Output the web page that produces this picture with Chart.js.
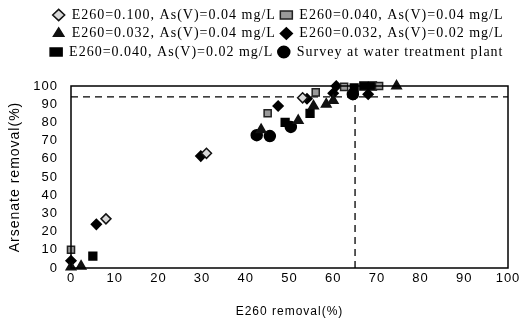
<!DOCTYPE html>
<html>
<head>
<meta charset="utf-8">
<script src="https://cdn.jsdelivr.net/npm/chart.js@4"></script>
<style>
  html, body { margin: 0; padding: 0; background: #fff; }
  #wrap { width: 525px; height: 329px; }
</style>
</head>
<body>
<div id="wrap"><canvas id="chart" width="525" height="329"></canvas></div>
<script>
// series labels
var seriesNames = [
  "E260=0.100, As(V)=0.04 mg/L",
  "E260=0.040, As(V)=0.04 mg/L",
  "E260=0.032, As(V)=0.04 mg/L",
  "E260=0.032, As(V)=0.02 mg/L",
  "E260=0.040, As(V)=0.02 mg/L",
  "Survey at water treatment plant"
];

// E260 removal (%) / arsenate removal (%) per series
var e100As04X = [8, 31, 53];
var e100As04Y = [27, 63, 93.5];

var e040As04X = [0, 45, 56, 62.5, 70.5];
var e040As04Y = [10, 85, 96.5, 99.5, 100];

var e032As04X = [0, 2.3, 43.5, 52, 55.5, 58.4, 60, 74.5];
var e032As04Y = [0.5, 1, 76, 81, 89, 90, 92, 100];

var e032As02X = [0, 5.8, 29.7, 47.4, 54, 60, 60.7, 68];
var e032As02Y = [4, 24, 61.5, 89, 93, 96, 100, 95.5];

var e040As02X = [5, 49, 54.7, 64.8, 67, 69];
var e040As02Y = [6.5, 80, 85, 99, 100, 100];

var surveyX = [42.5, 45.5, 50.3, 64.5];
var surveyY = [73, 72.5, 77.5, 95.5];

// guide lines
var targetE260 = 65;
var targetArsenate = 94;

var xTicks = [0, 10, 20, 30, 40, 50, 60, 70, 80, 90, 100];
var yTicks = [0, 10, 20, 30, 40, 50, 60, 70, 80, 90, 100];

function pts(xs, ys) {
  return xs.map(function (x, i) { return { x: x, y: ys[i] }; });
}

function scatterSet(label, xs, ys, style, fill, border, r) {
  return {
    type: 'scatter',
    label: label,
    data: pts(xs, ys),
    pointStyle: style,
    backgroundColor: fill,
    borderColor: border,
    borderWidth: 1.5,
    pointRadius: r,
    clip: false
  };
}

var boxPlugin = {
  id: 'box',
  beforeLayout: function (chart) { chart.ctx.letterSpacing = '1px'; },
  beforeDraw: function (chart) { chart.ctx.letterSpacing = '1px'; },
  afterDatasetsDraw: function (chart) {
    var a = chart.chartArea, ctx = chart.ctx;
    ctx.save();
    ctx.strokeStyle = '#000';
    ctx.lineWidth = 1.5;
    ctx.strokeRect(a.left, a.top, a.right - a.left, a.bottom - a.top);
    ctx.restore();
  }
};

var guideStyle = {
  type: 'line',
  borderColor: '#000',
  borderWidth: 1.3,
  borderDash: [7, 5],
  pointRadius: 0,
  fill: false,
  clip: false
};

new Chart(document.getElementById('chart'), {
  type: 'scatter',
  data: {
    datasets: [
      scatterSet(seriesNames[0], e100As04X, e100As04Y, 'rectRot', '#d8d8d8', '#111', 5),
      scatterSet(seriesNames[1], e040As04X, e040As04Y, 'rect', '#9a9a9a', '#222', 5),
      scatterSet(seriesNames[2], e032As04X, e032As04Y, 'triangle', '#111', '#111', 5.5),
      scatterSet(seriesNames[3], e032As02X, e032As02Y, 'rectRot', '#000', '#000', 5),
      scatterSet(seriesNames[4], e040As02X, e040As02Y, 'rect', '#000', '#000', 5.5),
      scatterSet(seriesNames[5], surveyX, surveyY, 'circle', '#000', '#000', 5.5),
      Object.assign({ label: 'h', data: [{ x: 0, y: targetArsenate }, { x: 100, y: targetArsenate }] }, guideStyle),
      Object.assign({ label: 'v', data: [{ x: targetE260, y: 0 }, { x: targetE260, y: targetArsenate }] }, guideStyle)
    ]
  },
  options: {
    responsive: false,
    animation: false,
    layout: { padding: { left: 0, right: 17, top: 3.5, bottom: 4 } },
    plugins: {
      tooltip: { enabled: false },
      legend: {
        position: 'top',
        align: 'end',
        labels: {
          usePointStyle: true,
          boxHeight: 8,
          pointStyleWidth: 12,
          padding: 4.5,
          color: '#000',
          font: { family: 'Liberation Serif', size: 14 },
          filter: function (item) { return item.datasetIndex < 6; }
        }
      }
    },
    scales: {
      x: {
        type: 'linear',
        min: 0, max: 100,
        afterBuildTicks: function (s) { s.ticks = xTicks.map(function (v) { return { value: v }; }); },
        afterFit: function (s) { s.height = 57; },
        grid: { display: false, drawTicks: false },
        border: { display: false },
        ticks: { color: '#000', padding: 3, maxRotation: 0, autoSkip: false, font: { family: 'Liberation Sans', size: 13 } },
        title: { display: true, text: 'E260 removal(%)', color: '#000', padding: { top: 0, bottom: 6 }, font: { family: 'Liberation Sans', size: 12 } }
      },
      xTop: {
        type: 'linear',
        position: 'top',
        min: 0, max: 100,
        afterFit: function (s) { s.height = 17; },
        grid: { display: false, drawTicks: false },
        border: { display: false },
        ticks: { display: false }
      },
      y: {
        type: 'linear',
        min: 0, max: 100,
        afterBuildTicks: function (s) { s.ticks = yTicks.map(function (v) { return { value: v }; }); },
        afterFit: function (s) { s.width = 71; },
        grid: { display: false, drawTicks: false },
        border: { display: false },
        ticks: { color: '#000', padding: 13, autoSkip: false, font: { family: 'Liberation Sans', size: 13 } },
        title: { display: true, text: 'Arsenate removal(%)', color: '#000', padding: { top: 7, bottom: 0 }, font: { family: 'Liberation Sans', size: 14 } }
      }
    }
  },
  plugins: [boxPlugin]
});
</script>
</body>
</html>
